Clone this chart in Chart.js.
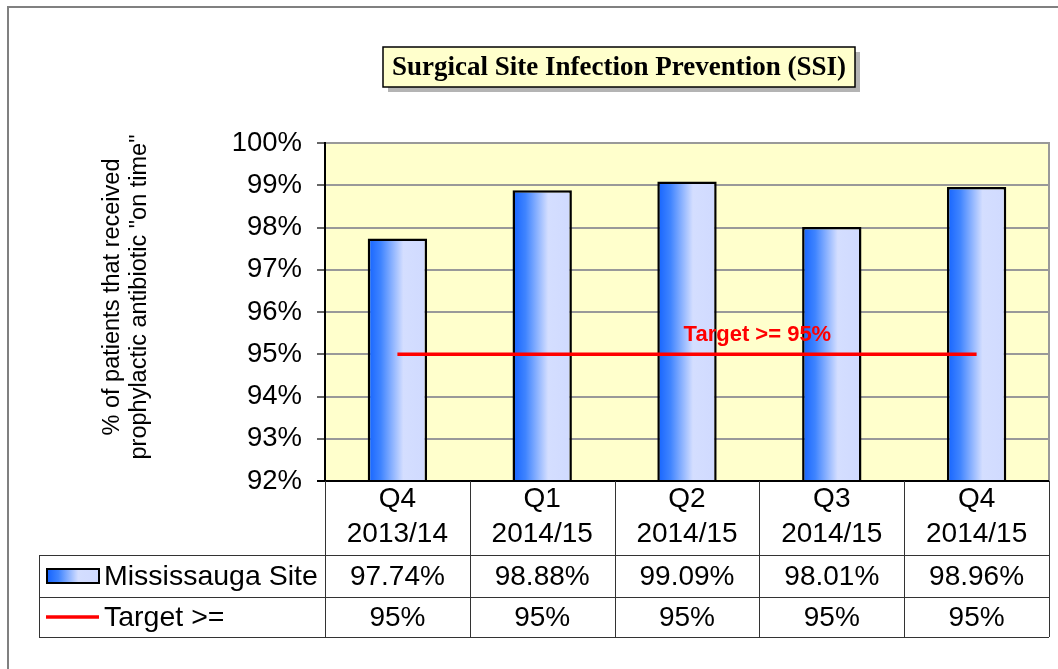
<!DOCTYPE html>
<html><head><meta charset="utf-8">
<script src="https://cdn.jsdelivr.net/npm/chart.js@4"></script>
<style>html,body{margin:0;padding:0;background:#fff;overflow:hidden}</style>
</head><body>
<canvas id="c" width="1058" height="669" style="display:block;width:1058px;height:669px"></canvas>
<script>
const quarters = ['Q4', 'Q1', 'Q2', 'Q3', 'Q4'];
const years = ['2013/14', '2014/15', '2014/15', '2014/15', '2014/15'];
const siteValues = [97.74, 98.88, 99.09, 98.01, 98.96];
const targetValues = [95, 95, 95, 95, 95];
const seriesNames = ['Mississauga Site', 'Target >='];
const chartTitle = 'Surgical Site Infection Prevention (SSI)';
const yTitle = ['% of patients that received', 'prophylactic antibiotic "on time"'];
const targetLabel = 'Target >= 95%';
const yMin = 92, yMax = 100, yStep = 1;

const SANS = '"Liberation Sans", Arial, sans-serif';
const SERIF = '"Liberation Serif", "Times New Roman", serif';
const BAR_PCT = 0.41;

function makeGrad(ctx, x0, x1) {
  const g = ctx.createLinearGradient(x0, 0, x1, 0);
  g.addColorStop(0, '#1463FF');
  g.addColorStop(0.22, '#3F84FF');
  g.addColorStop(0.6, '#D4DEFF');
  g.addColorStop(1, '#D0DAFF');
  return g;
}

function barGradient(c) {
  const chart = c.chart;
  if (!chart.chartArea || c.type !== 'data') return '#4080ff';
  const xs = chart.scales.x;
  const cx = xs.getPixelForValue(c.dataIndex);
  const w = (xs.width / quarters.length) * BAR_PCT;
  return makeGrad(chart.ctx, cx - w / 2, cx + w / 2);
}

const decor = {
  id: 'decor',
  beforeDraw(chart) {
    const ctx = chart.ctx, a = chart.chartArea;
    ctx.save();
    ctx.fillStyle = '#fff';
    ctx.fillRect(0, 0, chart.width, chart.height);
    // outer frame
    ctx.strokeStyle = '#808080';
    ctx.lineWidth = 2;
    ctx.beginPath();
    ctx.moveTo(8, chart.height + 2);
    ctx.lineTo(8, 7);
    ctx.lineTo(chart.width + 2, 7);
    ctx.stroke();
    // plot background
    ctx.fillStyle = '#FFFFCC';
    ctx.fillRect(a.left, a.top, a.right - a.left, a.bottom - a.top);
    // title box
    const bx = 383, by = 47, bw = 472, bh = 40;
    ctx.fillStyle = '#B4B4B4';
    ctx.fillRect(bx + 5, by + 5, bw, bh);
    ctx.fillStyle = '#FFFFCC';
    ctx.fillRect(bx, by, bw, bh);
    ctx.strokeStyle = '#000';
    ctx.lineWidth = 1.5;
    ctx.strokeRect(bx, by, bw, bh);
    ctx.fillStyle = '#000';
    ctx.font = 'bold 27px ' + SERIF;
    ctx.textAlign = 'center';
    ctx.textBaseline = 'middle';
    ctx.fillText(chartTitle, bx + bw / 2, by + bh / 2 + 1);
    // y title
    ctx.save();
    ctx.translate(126, 297);
    ctx.rotate(-Math.PI / 2);
    ctx.font = '23.5px ' + SANS;
    ctx.fillText(yTitle[0], 0, -13.5);
    ctx.fillText(yTitle[1], 0, 13.5);
    ctx.restore();
    ctx.restore();
  },
  afterDraw(chart) {
    const ctx = chart.ctx, a = chart.chartArea;
    const xs = chart.scales.x, ys = chart.scales.y;
    const n = quarters.length;
    const cw = xs.width / n;
    ctx.save();
    // plot right border
    ctx.strokeStyle = '#999';
    ctx.lineWidth = 2;
    ctx.beginPath();
    ctx.moveTo(a.right, a.top - 1);
    ctx.lineTo(a.right, a.bottom);
    ctx.stroke();
    // bottom axis
    ctx.strokeStyle = '#000';
    ctx.lineWidth = 2;
    ctx.beginPath();
    ctx.moveTo(a.left - 8, a.bottom);
    ctx.lineTo(a.right, a.bottom);
    ctx.stroke();

    // target label
    const ty = ys.getPixelForValue(targetValues[0]);
    const tx = (xs.getPixelForValue(2) + xs.getPixelForValue(3)) / 2;
    ctx.fillStyle = '#FF0000';
    ctx.font = 'bold 22px ' + SANS;
    ctx.textAlign = 'center';
    ctx.textBaseline = 'middle';
    ctx.fillText(targetLabel, tx - 2, ty - 19);

    // data table
    const r1 = a.bottom + 74, r2 = r1 + 42, r3 = r2 + 40;
    const tl = 39;
    ctx.strokeStyle = '#333';
    ctx.lineWidth = 1;
    ctx.beginPath();
    [r1, r2, r3].forEach(y => { ctx.moveTo(tl, Math.round(y) + 0.5); ctx.lineTo(a.right, Math.round(y) + 0.5); });
    ctx.moveTo(tl + 0.5, r1); ctx.lineTo(tl + 0.5, r3);
    for (let i = 0; i <= n; i++) {
      const x = Math.round(a.left + i * cw) + 0.5;
      ctx.moveTo(x, a.bottom); ctx.lineTo(x, r3);
    }
    ctx.stroke();

    ctx.fillStyle = '#000';
    ctx.font = '28px ' + SANS;
    ctx.textAlign = 'center';
    ctx.textBaseline = 'middle';
    for (let i = 0; i < n; i++) {
      const cx = xs.getPixelForValue(i);
      ctx.fillText(quarters[i], cx, a.bottom + 18);
      ctx.fillText(years[i], cx, a.bottom + 53);
      ctx.fillText(siteValues[i].toFixed(2) + '%', cx, (r1 + r2) / 2 + 1);
      ctx.fillText(targetValues[i] + '%', cx, (r2 + r3) / 2 + 1);
    }
    // legend keys
    const sy = (r1 + r2) / 2;
    ctx.fillStyle = makeGrad(ctx, 47, 99);
    ctx.fillRect(47, sy - 7, 52, 14);
    ctx.strokeStyle = '#000';
    ctx.lineWidth = 2;
    ctx.strokeRect(47, sy - 7, 52, 14);
    const ly = (r2 + r3) / 2;
    ctx.strokeStyle = '#FF0000';
    ctx.lineWidth = 3.5;
    ctx.beginPath();
    ctx.moveTo(46, ly); ctx.lineTo(99, ly);
    ctx.stroke();
    ctx.fillStyle = '#000';
    ctx.textAlign = 'left';
    ctx.font = '28.5px ' + SANS;
    ctx.fillText(seriesNames[0], 104, sy + 1);
    ctx.fillText(seriesNames[1], 104, ly + 1);
    ctx.restore();
  }
};

new Chart(document.getElementById('c'), {
  data: {
    labels: quarters.map((q, i) => q + ' ' + years[i]),
    datasets: [
      {
        type: 'line', label: seriesNames[1], data: targetValues, order: 0,
        borderColor: '#FF0000', borderWidth: 3.5, pointRadius: 0, fill: false, tension: 0
      },
      {
        type: 'bar', label: seriesNames[0], data: siteValues, order: 1,
        backgroundColor: barGradient, borderColor: '#000', borderWidth: 2.5,
        categoryPercentage: 1, barPercentage: BAR_PCT, borderSkipped: false
      }
    ]
  },
  options: {
    responsive: false,
    animation: false,
    events: [],
    layout: { padding: { left: 0, top: 143, right: 9, bottom: 188 } },
    plugins: { legend: { display: false }, title: { display: false }, tooltip: { enabled: false } },
    scales: {
      x: { display: false, offset: true },
      y: {
        min: yMin, max: yMax,
        border: { color: '#000', width: 2 },
        grid: { color: '#999', lineWidth: 2, tickLength: 8, tickColor: '#333', tickWidth: 1.5 },
        ticks: {
          stepSize: yStep, color: '#000', padding: 15,
          font: { family: SANS, size: 27.5 },
          callback: v => v + '%'
        },
        afterFit(s) { s.width = 325; s.paddingTop = 0; s.paddingBottom = 0; }
      }
    }
  },
  plugins: [decor]
});
</script>
</body></html>
